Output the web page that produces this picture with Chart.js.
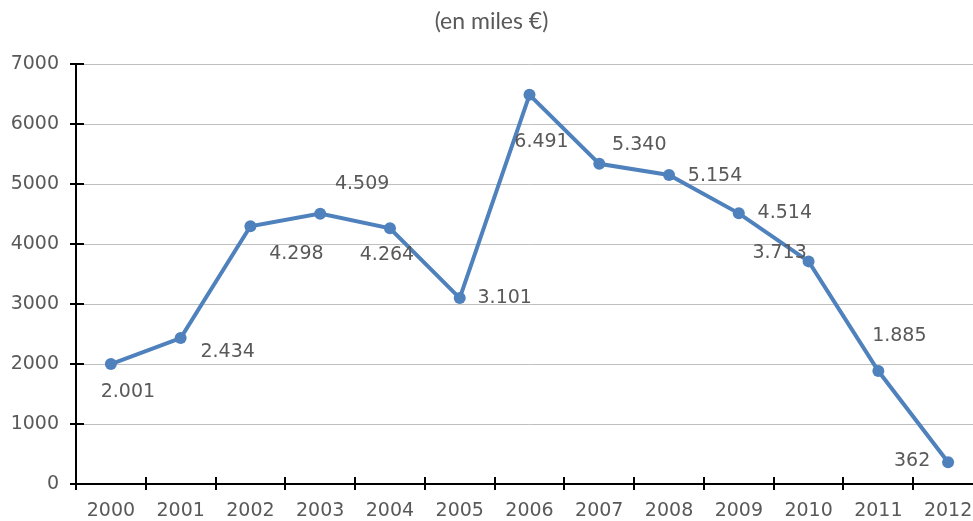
<!DOCTYPE html>
<html>
<head>
<meta charset="utf-8">
<script src="https://cdn.jsdelivr.net/npm/chart.js@4.4.1/dist/chart.umd.min.js"></script>
<style>
  html, body { margin: 0; padding: 0; background: #fff; overflow: hidden; }
  #wrap { width: 990px; height: 521px; position: relative; }
</style>
</head>
<body>
<div id="wrap"><canvas id="miles-chart"></canvas></div>
<script>
var years = ['2000', '2001', '2002', '2003', '2004', '2005', '2006',
             '2007', '2008', '2009', '2010', '2011', '2012'];
var amounts = [2001, 2434, 4298, 4509, 4264, 3101, 6491, 5340, 5154, 4514, 3713, 1885, 362];
var yTicks = [0, 1000, 2000, 3000, 4000, 5000, 6000, 7000];
var chartTitle = '(en miles €)';

// where each value label sits, relative to its point (px)
var labelShift = [[17, 28], [47, 14], [46, 28], [42, -30], [-3, 27], [45, 0], [12, 47],
                  [40, -19], [46, 1], [46, 0], [-29, -8], [21, -35], [-36, -1]];

var lineColor = '#4F81BD';
var textColor = '#595959';

function fmt(v) {
    return String(v).replace(/\B(?=(\d{3})+(?!\d))/g, '.');
}

// black axes with ticks crossing the line, like the spreadsheet export
var axesPlugin = {
    id: 'axes',
    afterDatasetsDraw: function(chart) {
        var ctx = chart.ctx;
        var a = chart.chartArea;
        var ys = chart.scales.y;
        ctx.save();
        ctx.strokeStyle = '#000';
        ctx.lineWidth = 2;
        ctx.beginPath();
        ctx.moveTo(a.left, a.top);
        ctx.lineTo(a.left, a.bottom);
        ctx.moveTo(a.left, a.bottom);
        ctx.lineTo(a.right, a.bottom);
        yTicks.forEach(function(t) {
            var y = Math.round(ys.getPixelForValue(t));
            ctx.moveTo(a.left - 6, y);
            ctx.lineTo(a.left + 8, y);
        });
        var step = (a.right - a.left) / years.length;
        for (let i = 0; i <= years.length; i++) {
            var x = Math.round(a.left + i * step);
            ctx.moveTo(x, a.bottom - 7);
            ctx.lineTo(x, a.bottom + 6);
        }
        ctx.stroke();
        ctx.restore();
    }
};

var valueLabels = {
    id: 'valueLabels',
    afterDatasetsDraw: function(chart) {
        var ctx = chart.ctx;
        var meta = chart.getDatasetMeta(0);
        ctx.save();
        ctx.font = '19px "DejaVu Sans"';
        ctx.fillStyle = textColor;
        ctx.textAlign = 'center';
        ctx.textBaseline = 'middle';
        meta.data.forEach(function(pt, i) {
            var s = labelShift[i];
            ctx.fillText(fmt(amounts[i]), pt.x + s[0], pt.y + s[1]);
        });
        ctx.restore();
    }
};

const ctx = document.getElementById('miles-chart');

new Chart(ctx, {
    type: 'line',
    data: {
        labels: years,
        datasets: [{
            data: amounts,
            borderColor: lineColor,
            backgroundColor: lineColor,
            borderWidth: 4,
            pointRadius: 6,
            pointBorderWidth: 0,
            pointBackgroundColor: lineColor,
            tension: 0
        }]
    },
    options: {
        responsive: true,
        maintainAspectRatio: false,
        animation: false,
        devicePixelRatio: 1,
        layout: {
            padding: { left: 0, right: 7, top: 0, bottom: 0 }
        },
        scales: {
            x: {
                offset: true,
                grid: { display: false, drawTicks: false },
                border: { display: false },
                ticks: {
                    color: textColor,
                    font: { family: 'DejaVu Sans', size: 19 },
                    padding: 16,
                    maxRotation: 0,
                    autoSkip: false
                },
                afterFit: function(scale) { scale.height = 37; }
            },
            y: {
                min: 0,
                max: 7000,
                afterBuildTicks: function(scale) {
                    scale.ticks = yTicks.map(function(v) { return { value: v }; });
                },
                grid: { color: '#BFBFBF', lineWidth: 1, drawTicks: false },
                border: { display: false },
                ticks: {
                    color: textColor,
                    font: { family: 'DejaVu Sans', size: 19 },
                    padding: 17,
                    callback: function(v) { return String(v); }
                },
                afterFit: function(scale) { scale.width = 76; }
            }
        },
        plugins: {
            legend: { display: false },
            tooltip: { enabled: false },
            title: {
                display: true,
                text: chartTitle,
                color: textColor,
                font: { family: 'Lato', size: 23, weight: 'normal', lineHeight: 1.1 },
                padding: { top: 9, bottom: 30 }
            }
        }
    },
    plugins: [axesPlugin, valueLabels]
});
</script>
</body>
</html>
